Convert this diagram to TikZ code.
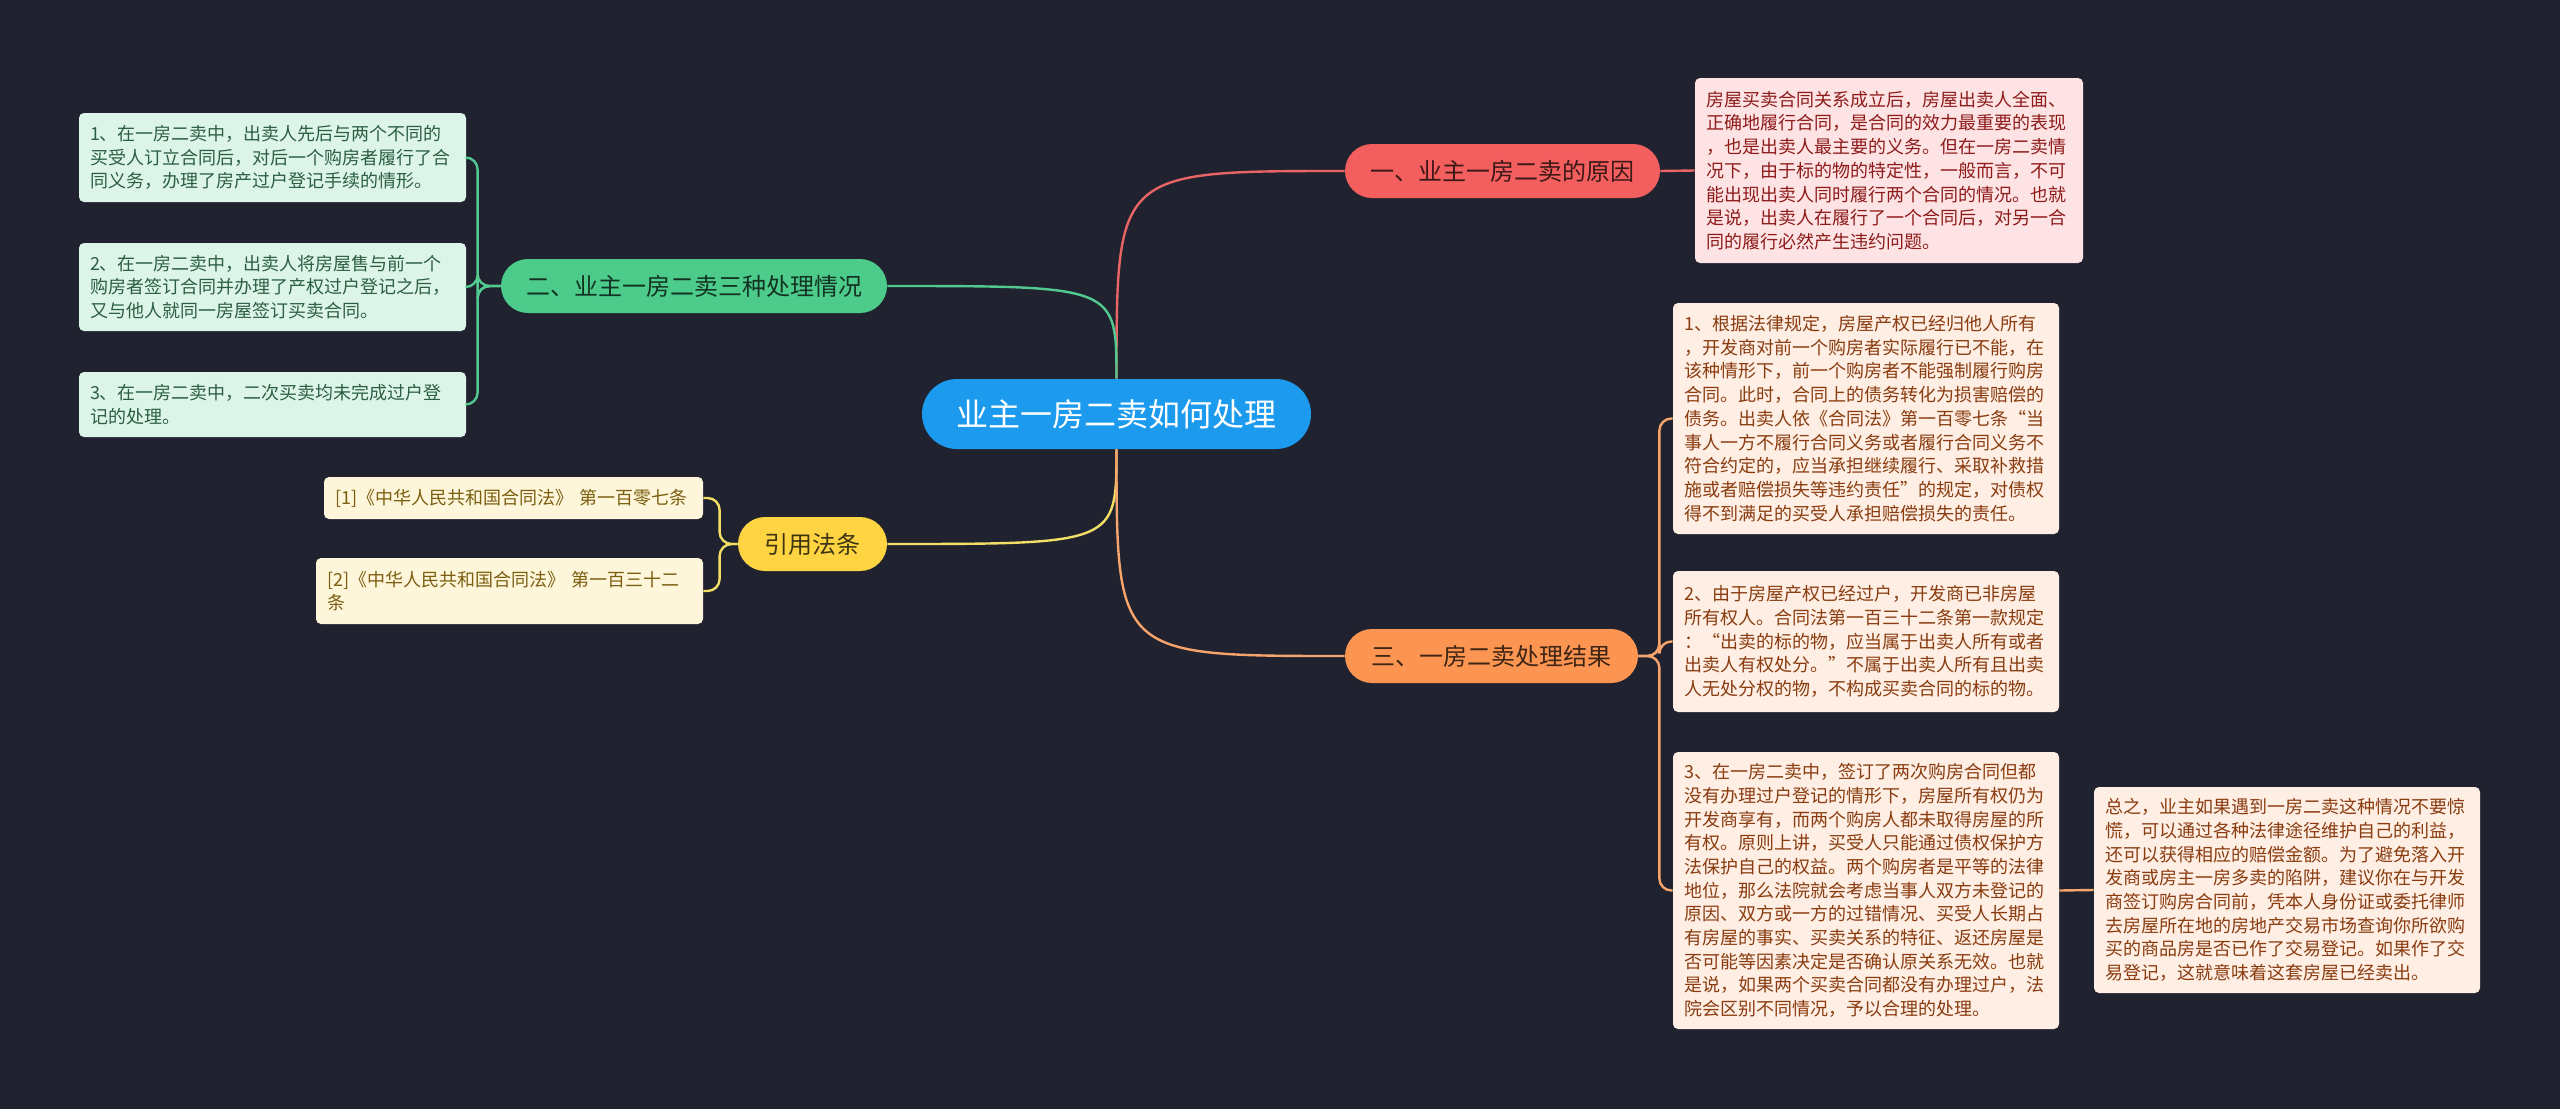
\documentclass[tikz,border=0pt]{standalone}
\usepackage{fontspec}
\setmainfont{Noto Sans CJK SC}

\definecolor{bgnavy}{HTML}{20232F}
\definecolor{rootblue}{HTML}{1B9AEE}
\definecolor{redbr}{HTML}{F25F5E}
\definecolor{redleaf}{HTML}{FDE3E3}
\definecolor{redtext}{HTML}{8E1B1B}
\definecolor{redline}{HTML}{E96464}
\definecolor{greenbr}{HTML}{4CCB8B}
\definecolor{greenleaf}{HTML}{DDF5E8}
\definecolor{greentext}{HTML}{2B5E43}
\definecolor{greenline}{HTML}{52C98E}
\definecolor{yellowbr}{HTML}{FED443}
\definecolor{yellowleaf}{HTML}{FEF6DA}
\definecolor{yellowtext}{HTML}{7B5E10}
\definecolor{yellowline}{HTML}{F3DE66}
\definecolor{orangebr}{HTML}{FC9552}
\definecolor{orangeleaf}{HTML}{FEEEE3}
\definecolor{orangetext}{HTML}{8A3C10}
\definecolor{orangeline}{HTML}{F6A46C}

\begin{document}
\begin{tikzpicture}[x=0.5pt, y=-0.5pt,
    rootnode/.style={fill=rootblue, text=white, rounded corners=17.5pt,
      minimum width=194.5pt, minimum height=35pt, inner sep=0pt,
      font=\fontsize{16}{19}\selectfont},
    branchnode/.style={rounded corners=13.5pt, minimum height=27pt,
      inner sep=0pt, font=\fontsize{12}{14}\selectfont},
    leafnode/.style={rounded corners=2.5pt, inner xsep=5.5pt, inner ysep=0pt,
      align=left, font=\fontsize{9}{11.85}\selectfont},
    link/.style={line width=1.2pt},
    bracket/.style={line width=1.2pt, rounded corners=6pt}
  ]

    %% =========================================================
    %% CANVAS — 2560 x 1109 px, y runs downwards
    %% =========================================================
    \fill[bgnavy] (0,0) rectangle (2560,1109);

    \node[rootnode] (root) at (1116.5,414) {业主一房二卖如何处理};

    %% =========================================================
    %% BRANCHES
    %% =========================================================
    \node[branchnode, fill=redbr, text=redbr!25!black, minimum width=157.5pt]
      (b1) at (1502.5,171) {一、业主一房二卖的原因};
    \node[branchnode, fill=greenbr, text=greenbr!25!black, minimum width=193pt]
      (b2) at (694,286) {二、业主一房二卖三种处理情况};
    \node[branchnode, fill=orangebr, text=orangebr!25!black, minimum width=146.5pt]
      (b3) at (1491.5,656) {三、一房二卖处理结果};
    \node[branchnode, fill=yellowbr, text=yellowbr!25!black, minimum width=74.5pt]
      (b4) at (812.5,544) {引用法条};

    %% =========================================================
    %% LEAVES — red
    %% =========================================================
    \node[leafnode, fill=redleaf, text=redtext, text width=183pt, minimum height=92.5pt]
      (r1) at (1889,170.5) {房屋买卖合同关系成立后，房屋出卖人全面、\\
      正确地履行合同，是合同的效力最重要的表现\\
      ，也是出卖人最主要的义务。但在一房二卖情\\
      况下，由于标的物的特定性，一般而言，不可\\
      能出现出卖人同时履行两个合同的情况。也就\\
      是说，出卖人在履行了一个合同后，对另一合\\
      同的履行必然产生违约问题。};

    %% LEAVES — green
    \node[leafnode, fill=greenleaf, text=greentext, text width=182.5pt, minimum height=44.5pt]
      (g1) at (272.5,157.5) {1、在一房二卖中，出卖人先后与两个不同的\\
      买受人订立合同后，对后一个购房者履行了合\\
      同义务，办理了房产过户登记手续的情形。};
    \node[leafnode, fill=greenleaf, text=greentext, text width=182.5pt, minimum height=44pt]
      (g2) at (272.5,287) {2、在一房二卖中，出卖人将房屋售与前一个\\
      购房者签订合同并办理了产权过户登记之后，\\
      又与他人就同一房屋签订买卖合同。};
    \node[leafnode, fill=greenleaf, text=greentext, text width=182.5pt, minimum height=32.5pt]
      (g3) at (272.5,404.5) {3、在一房二卖中，二次买卖均未完成过户登\\
      记的处理。};

    %% LEAVES — yellow
    \node[leafnode, fill=yellowleaf, text=yellowtext, text width=178.5pt, minimum height=21pt]
      (y1) at (513.5,498) {[1]《中华人民共和国合同法》 第一百零七条};
    \node[leafnode, fill=yellowleaf, text=yellowtext, text width=182.5pt, minimum height=33pt]
      (y2) at (509.5,591) {[2]《中华人民共和国合同法》 第一百三十二\\
      条};

    %% LEAVES — orange
    \node[leafnode, fill=orangeleaf, text=orangetext, text width=182pt, minimum height=115.5pt]
      (o1) at (1866,418.5) {1、根据法律规定，房屋产权已经归他人所有\\
      ，开发商对前一个购房者实际履行已不能，在\\
      该种情形下，前一个购房者不能强制履行购房\\
      合同。此时，合同上的债务转化为损害赔偿的\\
      债务。出卖人依《合同法》第一百零七条“当\\
      事人一方不履行合同义务或者履行合同义务不\\
      符合约定的，应当承担继续履行、采取补救措\\
      施或者赔偿损失等违约责任”的规定，对债权\\
      得不到满足的买受人承担赔偿损失的责任。};
    \node[leafnode, fill=orangeleaf, text=orangetext, text width=182pt, minimum height=70.5pt]
      (o2) at (1866,641.5) {2、由于房屋产权已经过户，开发商已非房屋\\
      所有权人。合同法第一百三十二条第一款规定\\
      ：“出卖的标的物，应当属于出卖人所有或者\\
      出卖人有权处分。”不属于出卖人所有且出卖\\
      人无处分权的物，不构成买卖合同的标的物。};
    \node[leafnode, fill=orangeleaf, text=orangetext, text width=182pt, minimum height=138.5pt]
      (o3) at (1866,890.5) {3、在一房二卖中，签订了两次购房合同但都\\
      没有办理过户登记的情形下，房屋所有权仍为\\
      开发商享有，而两个购房人都未取得房屋的所\\
      有权。原则上讲，买受人只能通过债权保护方\\
      法保护自己的权益。两个购房者是平等的法律\\
      地位，那么法院就会考虑当事人双方未登记的\\
      原因、双方或一方的过错情况、买受人长期占\\
      有房屋的事实、买卖关系的特征、返还房屋是\\
      否可能等因素决定是否确认原关系无效。也就\\
      是说，如果两个买卖合同都没有办理过户，法\\
      院会区别不同情况，予以合理的处理。};
    \node[leafnode, fill=orangeleaf, text=orangetext, text width=182pt, minimum height=103pt]
      (o4) at (2287,890) {总之，业主如果遇到一房二卖这种情况不要惊\\
      慌，可以通过各种法律途径维护自己的利益，\\
      还可以获得相应的赔偿金额。为了避免落入开\\
      发商或房主一房多卖的陷阱，建议你在与开发\\
      商签订购房合同前，凭本人身份证或委托律师\\
      去房屋所在地的房地产交易市场查询你所欲购\\
      买的商品房是否已作了交易登记。如果作了交\\
      易登记，这就意味着这套房屋已经卖出。};

    %% =========================================================
    %% CONNECTORS
    %% =========================================================
    \draw[link, redline] (root.north) .. controls (root.north |- b1.west) .. (b1.west);
    \draw[link, greenline] (root.north) .. controls (root.north |- b2.east) .. (b2.east);
    \draw[link, yellowline] (root.south) .. controls (root.south |- b4.east) .. (b4.east);
    \draw[link, orangeline] (root.south) .. controls (root.south |- b3.west) .. (b3.west);

    \draw[link, redline] (b1.east) -- (r1.west);

    \foreach \leaf in {g1,g2,g3}{
      \draw[bracket, greenline] (b2.west) -- ++(-23,0) |- (\leaf.east);
    }
    \foreach \leaf in {y1,y2}{
      \draw[bracket, yellowline] (b4.west) -- ++(-18,0) |- (\leaf.east);
    }
    \foreach \leaf in {o1,o2,o3}{
      \draw[bracket, orangeline] (b3.east) -- ++(21,0) |- (\leaf.west);
    }
    \draw[link, orangeline] (o3.east) -- (o4.west);

  \end{tikzpicture}
\end{document}
